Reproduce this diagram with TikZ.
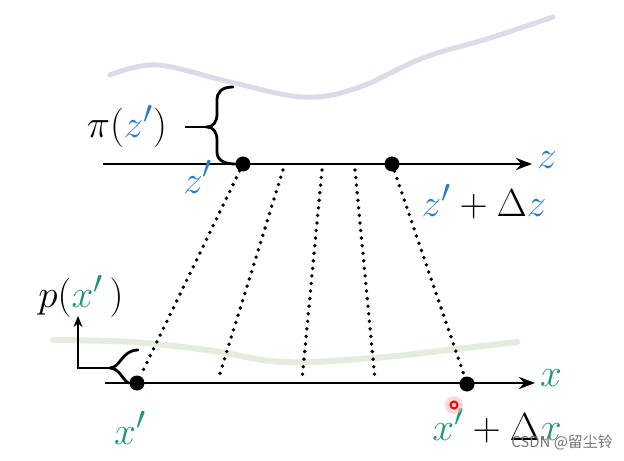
\documentclass[tikz,border=0pt]{standalone}
\usepackage{graphicx}
\usepackage{fontspec}
\newfontfamily\cjk{Noto Sans CJK SC}
\usetikzlibrary{arrows.meta}
\definecolor{zblue}{RGB}{40,125,200}
\definecolor{xgreen}{RGB}{30,150,110}
\definecolor{lavgray}{RGB}{220,220,232}
\definecolor{palegreen}{RGB}{228,236,222}
\newcommand\mylbl[1]{\scalebox{1.58}{\fontsize{24.88}{30}\selectfont$#1$}}
\begin{document}
\begin{tikzpicture}[x=1bp,y=-1bp,
  every node/.style={inner sep=0pt},
  axis/.style={line width=2.8bp,-{Stealth[length=16bp,width=12bp]}},
  dotline/.style={line width=3.8bp,line cap=round,dash pattern=on 0bp off 7.6bp},
  bigdot/.style={circle,fill=black,minimum size=15bp,inner sep=0pt},
  brace/.style={line width=2.8bp}]
\useasboundingbox (0,0) rectangle (624,461);
% faint background strokes
\draw[lavgray,line width=5bp,line cap=round] plot[smooth,tension=0.6] coordinates
  {(110,75) (157,65) (230,82) (303,97) (357,88) (423,58) (490,38) (553,17)};
\draw[palegreen,line width=6bp,line cap=round] plot[smooth,tension=0.6] coordinates
  {(53,340) (130,342) (207,350) (283,362) (373,358) (440,351) (517,342)};
% axes
\coordinate (zs) at (103,164);
\coordinate (ze) at (532,164);
\coordinate (xs) at (105,383);
\coordinate (xe) at (535,383);
\draw[axis] (zs) -- (ze);
\draw[axis] (xs) -- (xe);
% points
\node[bigdot] (z1) at (243,164) {};
\node[bigdot] (z2) at (392,164) {};
\node[bigdot] (x1) at (137,383) {};
\node[bigdot] (x2) at (467,384) {};
\coordinate (t2) at (283,170);
\coordinate (t3) at (322,170);
\coordinate (t4) at (355,170);
\coordinate (b2) at (218,380);
\coordinate (b3) at (302,380);
\coordinate (b4) at (375,380);
\draw[dotline] (z1) -- (x1);
\draw[dotline] (t2) -- (b2);
\draw[dotline] (t3) -- (b3);
\draw[dotline] (t4) -- (b4);
\draw[dotline] (z2) -- (x2);
% brace on top
\coordinate (bc) at (207,127);
\coordinate (bl) at (185,127);
\draw[brace] (bl) -- (bc);
\draw[brace,line cap=round] (233,87) .. controls (222,87) and (217,92) .. (217,100) -- (217,114)
  .. controls (217,122) and (213,127) .. (bc)
  .. controls (213,127) and (217,132) .. (217,140) -- (217,152)
  .. controls (217,160) and (224,164) .. (z1);
% fork at bottom
\coordinate (pa) at (78,316);
\coordinate (pc) at (78,368);
\coordinate (pf) at (110,368);
\draw[brace,{Stealth[length=11bp,width=9bp]}-] (pa) -- (pc) -- (pf);
\draw[brace,line cap=round] (pf) .. controls (120,368) and (122,350) .. (138,350);
\draw[brace] (pf) .. controls (120,368) and (124,383) .. (x1);
% labels
\node (pi) at (127,126) {\mylbl{\pi(\textcolor{zblue}{z'})}};
\node (zl) at (198,177) {\mylbl{\textcolor{zblue}{z'}}};
\node (zd) at (484,202) {\mylbl{\textcolor{zblue}{z'}+\Delta\textcolor{zblue}{z}}};
\node (zax) at (547,160) {\mylbl{\textcolor{zblue}{z}}};
\node (px) at (81,296) {\mylbl{p(\textcolor{xgreen}{x'}\,)}};
\node (xl) at (130,428) {\mylbl{\textcolor{xgreen}{x'}}};
\node (xd) at (497,426) {\mylbl{\textcolor{xgreen}{x'}+\Delta\textcolor{xgreen}{x}}};
\node (xax) at (551,378) {\mylbl{\textcolor{xgreen}{x}}};
% cursor mark
\fill[red!25,opacity=0.6] (454,405) circle (9bp);
\draw[red,line width=2bp] (454,405) circle (3.5bp);
% watermark
\node[font=\cjk\fontsize{15}{17}\selectfont,text=black!55] (wm) at (562,443) {CSDN @留尘铃};
\end{tikzpicture}
\end{document}
